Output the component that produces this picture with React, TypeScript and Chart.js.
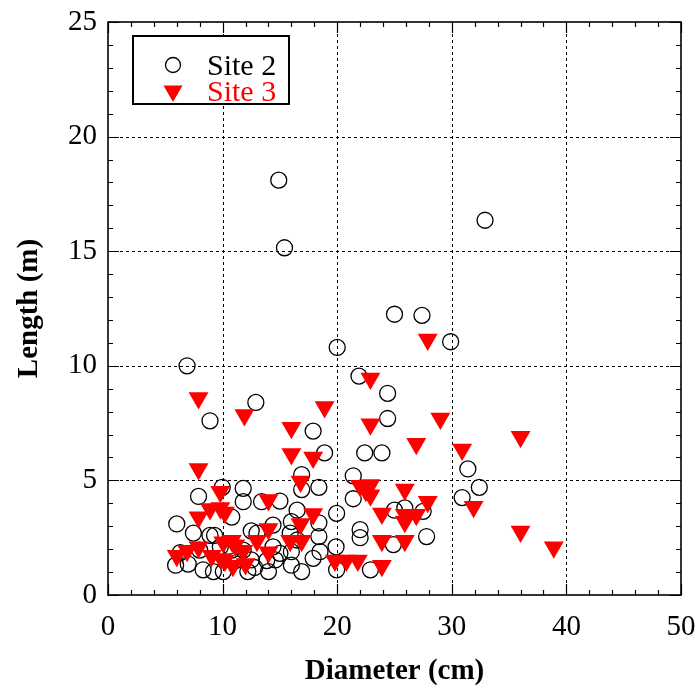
import React, { useEffect, useRef } from 'react';
import { Chart, registerables } from 'chart.js';
Chart.register(...registerables);

const FONT = "'Liberation Serif', 'Times New Roman', serif";

const site2Diameter = [
  14.9, 15.4, 32.9, 6.9, 20, 25, 27.4, 29.9, 21.9, 12.9, 8.9, 24.4, 24.4, 17.9, 18.9, 22.4, 23.9, 16.9, 21.4, 31.4,
  32.4, 30.9, 18.4, 21.4, 19.95, 22, 22, 18.4, 18.4, 19.9, 17.9, 19.95, 22.9, 25, 25.9, 27.5, 24.9, 27.8, 16.9, 15,
  16.5, 16, 16, 16.9, 15, 18.5,
  6.0, 7.9, 9.97, 11.8, 11.8, 13.4, 10.8, 7.45, 8.9, 9.3, 12.5, 13, 14.4, 15.9, 6.3, 5.9, 7.0, 8.3, 9.2, 10.06,
  8.0, 9.8, 10.8, 11.1, 11.8, 12.5, 12.8, 12.2, 14, 13.85, 14.4, 14.6, 16, 16.5,
];
const site2Length = [
  18.1, 15.15, 16.35, 10.0, 10.8, 12.25, 12.2, 11.05, 9.55, 8.4, 7.6, 8.8, 7.7, 7.15, 6.2, 6.2, 6.2, 5.25, 5.2, 5.5,
  4.7, 4.25, 4.7, 4.2, 3.56, 2.85, 2.5, 3.15, 2.55, 2.1, 1.6, 1.1, 1.1, 3.7, 3.8, 3.65, 2.2, 2.55, 4.6, 4.1,
  3.7, 3.2, 1.3, 1.02, 1.82, 1.89,
  3.1, 4.3, 4.7, 4.65, 4.07, 4.07, 3.4, 2.7, 2.6, 2.6, 2.8, 2.7, 3.05, 2.7, 1.85, 1.3, 1.35, 1.1, 1.02, 1.02,
  1.96, 2.1, 1.96, 1.5, 1.96, 1.53, 1.2, 1.02, 1.02, 1.5, 2.1, 1.53, 1.89, 2.4,
];

const site3Diameter = [
  7.9, 11.9, 16, 18.9, 16, 17.9, 7.9, 22.9, 22.9, 27.9, 26.9, 29, 16.8, 22.9, 22, 22.5, 22.9, 36, 30.9, 31.9,
  36, 38.9, 25.9, 27.9, 23.9, 25.9, 25.9, 26.9, 23.9, 25.9, 23.9, 17.9, 16.8, 15.9, 16.9, 19.8, 20.8, 21.8,
  6.0, 6.9, 7.9, 9.05, 9.9, 10.06, 7.9, 8.9, 9.8, 10.2, 9.8, 10.8, 11.1, 11.8, 10.9, 12, 10.2, 13.0, 14.0, 14.0, 14,
];
const site3Length = [
  8.6, 7.85, 7.3, 8.2, 6.15, 6.0, 5.5, 9.45, 7.45, 11.15, 6.6, 7.7, 4.95, 4.8, 4.77, 4.55, 4.35, 6.9, 6.35, 3.85,
  2.77, 2.08, 4.6, 4.07, 3.56, 3.5, 3.2, 3.5, 2.37, 2.37, 1.28, 3.53, 3.1, 2.37, 2.37, 1.5, 1.5, 1.5,
  1.71, 1.93, 2.08, 1.71, 1.57, 2.3, 3.39, 3.75, 3.8, 3.6, 4.5, 2.37, 2.17, 1.93, 1.28, 1.35, 1.5, 2.37, 2.88, 1.86, 4.15,
];

const xTickValues = [0, 10, 20, 30, 40, 50];
const yTickValues = [0, 5, 10, 15, 20, 25];
const seriesNames = ['Site 2', 'Site 3'];
const xTitle = 'Diameter (cm)';
const yTitle = 'Length (m)';

const toPoints = (xs: number[], ys: number[]) => xs.map((x, i) => ({ x, y: ys[i] }));

const framePlugin = {
  id: 'frameTicks',
  beforeDatasetsDraw(chart: any) {
    const { ctx, chartArea } = chart;
    const { left, right, top, bottom } = chartArea;
    const xs = chart.scales.x;
    const ys = chart.scales.y;
    ctx.save();
    ctx.strokeStyle = '#000';
    ctx.lineWidth = 1;
    ctx.setLineDash([3, 3]);
    xTickValues.slice(1, -1).forEach((v) => {
      const p = Math.round(xs.getPixelForValue(v)) + 0.5;
      ctx.beginPath();
      ctx.moveTo(p, top);
      ctx.lineTo(p, bottom);
      ctx.stroke();
    });
    yTickValues.slice(1, -1).forEach((v) => {
      const p = Math.round(ys.getPixelForValue(v)) + 0.5;
      ctx.beginPath();
      ctx.moveTo(left, p);
      ctx.lineTo(right, p);
      ctx.stroke();
    });
    ctx.setLineDash([]);
    ctx.lineWidth = 1.2;
    for (let v = 0; v <= 50; v += 2) {
      const p = Math.round(xs.getPixelForValue(v)) + 0.5;
      const len = v % 10 === 0 ? 11 : 5;
      ctx.beginPath();
      ctx.moveTo(p, bottom);
      ctx.lineTo(p, bottom - len);
      ctx.moveTo(p, top);
      ctx.lineTo(p, top + len);
      ctx.stroke();
    }
    for (let v = 0; v <= 25; v += 1) {
      const p = Math.round(ys.getPixelForValue(v)) + 0.5;
      const len = v % 5 === 0 ? 11 : 5;
      ctx.beginPath();
      ctx.moveTo(left, p);
      ctx.lineTo(left + len, p);
      ctx.moveTo(right, p);
      ctx.lineTo(right - len, p);
      ctx.stroke();
    }
    ctx.lineWidth = 1.6;
    ctx.strokeRect(left, top, right - left, bottom - top);
    ctx.restore();
  },
  afterDraw(chart: any) {
    const { ctx, chartArea } = chart;
    const { left, right, top, bottom } = chartArea;
    ctx.save();
    ctx.fillStyle = '#000';
    ctx.font = `bold 29px ${FONT}`;
    ctx.textAlign = 'center';
    ctx.textBaseline = 'middle';
    ctx.fillText(xTitle, (left + right) / 2, 672);
    ctx.save();
    ctx.translate(30, (top + bottom) / 2);
    ctx.rotate(-Math.PI / 2);
    ctx.fillText(yTitle, 0, 0);
    ctx.restore();

    // legend
    const bx = 133, by = 36, bw = 156, bh = 68;
    ctx.fillStyle = '#fff';
    ctx.fillRect(bx, by, bw, bh);
    ctx.strokeStyle = '#000';
    ctx.lineWidth = 2;
    ctx.strokeRect(bx, by, bw, bh);
    ctx.lineWidth = 1.3;
    ctx.beginPath();
    ctx.arc(173, 65, 7.5, 0, Math.PI * 2);
    ctx.stroke();
    const r = 11;
    const tx = 173, ty = 91;
    ctx.fillStyle = '#ff0000';
    ctx.beginPath();
    ctx.moveTo(tx, ty + r);
    ctx.lineTo(tx - r * 0.866, ty - r / 2);
    ctx.lineTo(tx + r * 0.866, ty - r / 2);
    ctx.closePath();
    ctx.fill();
    ctx.font = `30px ${FONT}`;
    ctx.textAlign = 'left';
    ctx.textBaseline = 'middle';
    ctx.fillStyle = '#000';
    ctx.fillText(seriesNames[0], 207, 67);
    ctx.fillStyle = '#ff0000';
    ctx.fillText(seriesNames[1], 207, 93);
    ctx.restore();
  },
};

export default function App() {
  const ref = useRef<HTMLCanvasElement | null>(null);
  useEffect(() => {
    if (!ref.current) return;
    const chart = new Chart(ref.current, {
      type: 'scatter',
      data: {
        datasets: [
          {
            label: seriesNames[0],
            data: toPoints(site2Diameter, site2Length),
            pointStyle: 'circle',
            pointRadius: 8,
            pointHoverRadius: 8,
            backgroundColor: 'rgba(0,0,0,0)',
            borderColor: '#000',
            borderWidth: 1.3,
            order: 2,
          },
          {
            label: seriesNames[1],
            data: toPoints(site3Diameter, site3Length),
            pointStyle: 'triangle',
            rotation: 180,
            pointRadius: 11.5,
            pointHoverRadius: 11.5,
            backgroundColor: '#ff0000',
            borderColor: '#ff0000',
            borderWidth: 0,
            order: 1,
          },
        ],
      },
      options: {
        responsive: false,
        animation: false,
        events: [],
        layout: { padding: { top: 22, right: 15, left: 0, bottom: 0 } },
        plugins: { legend: { display: false }, tooltip: { enabled: false } },
        scales: {
          x: {
            type: 'linear',
            min: 0,
            max: 50,
            afterBuildTicks: (s: any) => { s.ticks = xTickValues.map((v) => ({ value: v })); },
            afterFit: (s: any) => { s.height = 95; s.paddingLeft = 0; s.paddingRight = 0; },
            ticks: { color: '#000', font: { family: FONT, size: 29 }, padding: 15, maxRotation: 0 },
            grid: { display: false, drawTicks: false },
            border: { display: false },
          },
          y: {
            type: 'linear',
            min: 0,
            max: 25,
            afterBuildTicks: (s: any) => { s.ticks = yTickValues.map((v) => ({ value: v })); },
            afterFit: (s: any) => { s.width = 108; s.paddingTop = 0; s.paddingBottom = 0; },
            ticks: { color: '#000', font: { family: FONT, size: 29 }, padding: 11 },
            grid: { display: false, drawTicks: false },
            border: { display: false },
          },
        },
      },
      plugins: [framePlugin],
    });
    return () => chart.destroy();
  }, []);
  return (
    <div style={{ position: 'absolute', left: 0, top: 0, width: 696, height: 690, background: '#fff' }}>
      <canvas ref={ref} width={696} height={690} style={{ display: 'block' }} />
    </div>
  );
}
